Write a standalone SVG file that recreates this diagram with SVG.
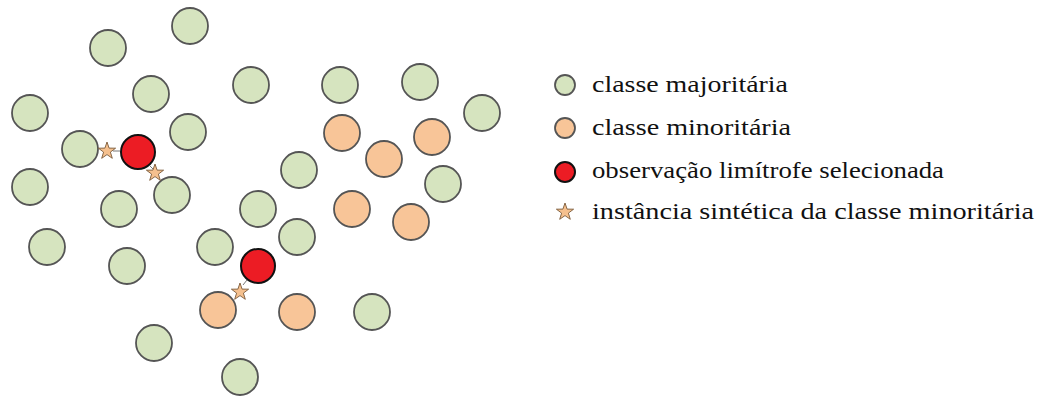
<svg xmlns="http://www.w3.org/2000/svg" width="1037" height="399" viewBox="0 0 1037 399">
<style>
.maj{fill:#d6e4bf;stroke:#555;stroke-width:1.8}
.min{fill:#f8c598;stroke:#555;stroke-width:1.8}
.sel{fill:#ec1c24;stroke:#111;stroke-width:2}
.star{fill:#f5c08e;stroke:#7a5a3a;stroke-width:0.9}
.lbl{font-family:"Liberation Serif","DejaVu Serif",serif;font-size:24px;fill:#111}
.link{stroke:#777;stroke-width:1}
</style>
<defs>
<polygon id="st" points="0,-9 2.1,-2.9 8.6,-2.8 3.4,1.1 5.3,7.3 0,3.6 -5.3,7.3 -3.4,1.1 -8.6,-2.8 -2.1,-2.9"/>
</defs>
<rect width="1037" height="399" fill="#fff"/>
<g id="connectors">
<line class="link" x1="113" y1="151" x2="120" y2="151"/>
<line class="link" x1="150" y1="166" x2="153" y2="169"/>
<line class="link" x1="243" y1="285" x2="247" y2="280"/>
</g>
<g id="majority">
<circle class="maj" cx="190" cy="26" r="18"/>
<circle class="maj" cx="108" cy="48" r="18"/>
<circle class="maj" cx="151" cy="94" r="18"/>
<circle class="maj" cx="251" cy="85" r="18"/>
<circle class="maj" cx="340" cy="85" r="18"/>
<circle class="maj" cx="420" cy="82" r="18"/>
<circle class="maj" cx="482" cy="113" r="18"/>
<circle class="maj" cx="30" cy="113" r="18"/>
<circle class="maj" cx="188" cy="132" r="18"/>
<circle class="maj" cx="80" cy="149" r="18"/>
<circle class="maj" cx="299" cy="170" r="18"/>
<circle class="maj" cx="443" cy="184" r="18"/>
<circle class="maj" cx="30" cy="187" r="18"/>
<circle class="maj" cx="119" cy="209" r="18"/>
<circle class="maj" cx="172" cy="195" r="18"/>
<circle class="maj" cx="258" cy="209" r="18"/>
<circle class="maj" cx="47" cy="247" r="18"/>
<circle class="maj" cx="127" cy="266" r="18"/>
<circle class="maj" cx="215" cy="247" r="18"/>
<circle class="maj" cx="297" cy="237" r="18"/>
<circle class="maj" cx="372" cy="312" r="18"/>
<circle class="maj" cx="154" cy="343" r="18"/>
<circle class="maj" cx="240" cy="377" r="18"/>
</g>
<g id="minority">
<circle class="min" cx="342" cy="133" r="18"/>
<circle class="min" cx="432" cy="137" r="18"/>
<circle class="min" cx="384" cy="159" r="18"/>
<circle class="min" cx="352" cy="209" r="18"/>
<circle class="min" cx="411" cy="222" r="18"/>
<circle class="min" cx="218" cy="310" r="18"/>
<circle class="min" cx="297" cy="312" r="18"/>
</g>
<g id="selected">
<circle class="sel" cx="138" cy="152" r="17"/>
<circle class="sel" cx="258" cy="266" r="17"/>
</g>
<g id="synthetic">
<use href="#st" class="star" x="107" y="151"/>
<use href="#st" class="star" x="155" y="173"/>
<use href="#st" class="star" x="240" y="292"/>
</g>
<g id="legend">
<circle class="maj" cx="565" cy="85" r="10" stroke-width="1.2"/>
<text class="lbl" x="592" y="92" textLength="196" lengthAdjust="spacingAndGlyphs">classe majoritária</text>
<circle class="min" cx="565" cy="128" r="10" stroke-width="1.2"/>
<text class="lbl" x="592" y="135" textLength="199" lengthAdjust="spacingAndGlyphs">classe minoritária</text>
<circle class="sel" cx="565" cy="172" r="10" stroke-width="1.2"/>
<text class="lbl" x="592" y="178" textLength="352" lengthAdjust="spacingAndGlyphs">observação limítrofe selecionada</text>
<use href="#st" class="star" x="565" y="212"/>
<text class="lbl" x="592" y="219" textLength="442" lengthAdjust="spacingAndGlyphs">instância sintética da classe minoritária</text>
</g>
</svg>
